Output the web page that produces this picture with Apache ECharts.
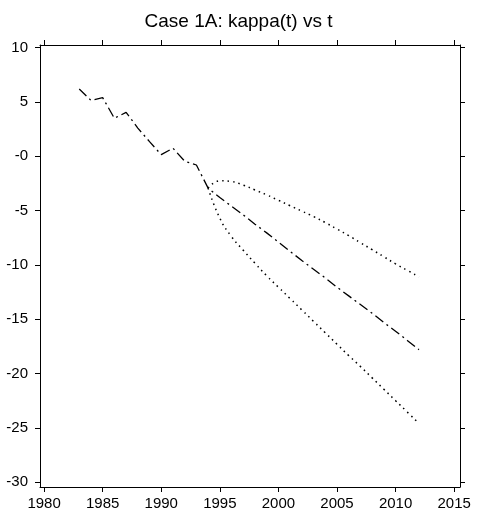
<!DOCTYPE html>
<html>
<head>
<meta charset="utf-8">
<script src="https://cdn.jsdelivr.net/npm/echarts@6/dist/echarts.min.js"></script>
<style>html,body{margin:0;padding:0;background:#fff;}#c{width:477px;height:518px;}</style>
</head>
<body>
<div id="c"></div>
<script>
// Data
var histYears = [1983,1984,1985,1986,1987,1988,1989,1990,1991,1992,1993,1994];
var histKappa = [6.2,5.15,5.4,3.5,4.05,2.6,1.35,0.15,0.75,-0.45,-0.8,-2.93];
var fcYears = [1994,1995,1996,1997,1998,1999,2000,2001,2002,2003,2004,2005,2006,2007,2008,2009,2010,2011,2012];
var fcCentral = [-2.93,-3.8,-4.6,-5.4,-6.25,-7.05,-7.9,-8.75,-9.6,-10.4,-11.2,-12.05,-12.85,-13.65,-14.45,-15.3,-16.1,-16.95,-17.8];
var fcUpper = [-2.93,-2.25,-2.32,-2.65,-3.1,-3.55,-4.05,-4.55,-5.05,-5.55,-6.1,-6.7,-7.3,-7.95,-8.6,-9.25,-9.9,-10.5,-11.1];
var fcLower = [-2.93,-5.7,-7.4,-8.65,-9.85,-11.0,-12.05,-13.1,-14.15,-15.2,-16.25,-17.3,-18.35,-19.35,-20.4,-21.45,-22.5,-23.55,-24.6];
var xTicks = [1980,1985,1990,1995,2000,2005,2010,2015];
var yTicks = [10,5,0,-5,-10,-15,-20,-25,-30];
var titleText = 'Case 1A: kappa(t) vs t';

function pairs(xs, ys){ return xs.map(function(x,i){ return [x, ys[i]]; }); }
var mainLine = pairs(histYears, histKappa).concat(pairs(fcYears.slice(1), fcCentral.slice(1)));

var FONT = 'Liberation Sans, Arial, sans-serif';
var axisLineStyle = {show:true, onZero:false, lineStyle:{color:'#000', width:1}};
var xMin = 1979.65, xMax = 2015.5, yMin = -30.45, yMax = 10.25;

function xAxis(pos, showLabel){
  return {
    type:'value', position:pos, min:xMin, max:xMax,
    axisLine:axisLineStyle,
    axisTick:{show:true, inside:false, length:5, customValues:xTicks, lineStyle:{color:'#000'}},
    axisLabel:{show:showLabel, customValues:xTicks, margin:9, color:'#000', fontSize:15, fontFamily:FONT,
      formatter:function(v){ return String(v); }},
    splitLine:{show:false}
  };
}
function yAxis(pos, showLabel){
  return {
    type:'value', position:pos, min:yMin, max:yMax,
    axisLine:axisLineStyle,
    axisTick:{show:true, inside:false, length:5, customValues:yTicks, lineStyle:{color:'#000'}},
    axisLabel:{show:showLabel, customValues:yTicks, margin:12, color:'#000', fontSize:15, fontFamily:FONT,
      formatter:function(v){ return v === 0 ? '-0' : String(v); }},
    splitLine:{show:false}
  };
}

var chart = echarts.init(document.getElementById('c'), null, {renderer:'canvas'});
chart.setOption({
  backgroundColor:'#fff',
  animation:false,
  title:{text:titleText, left:'center', top:7,
    textStyle:{color:'#000', fontSize:19, fontWeight:'normal', fontFamily:FONT}},
  grid:{left:40, right:17, top:45, bottom:31},
  xAxis:[xAxis('bottom', true), xAxis('top', false)],
  yAxis:[yAxis('left', true), yAxis('right', false)],
  series:[
    {type:'line', data:mainLine, showSymbol:false, smooth:false,
      lineStyle:{color:'#000', width:1.3, type:[10,4,2,4]}},
    {type:'line', data:pairs(fcYears, fcUpper), showSymbol:false, smooth:0.5,
      lineStyle:{color:'#000', width:1.5, type:[1.5,4]}},
    {type:'line', data:pairs(fcYears, fcLower), showSymbol:false, smooth:0.5,
      lineStyle:{color:'#000', width:1.5, type:[1.5,4]}}
  ]
});
</script>
</body>
</html>
